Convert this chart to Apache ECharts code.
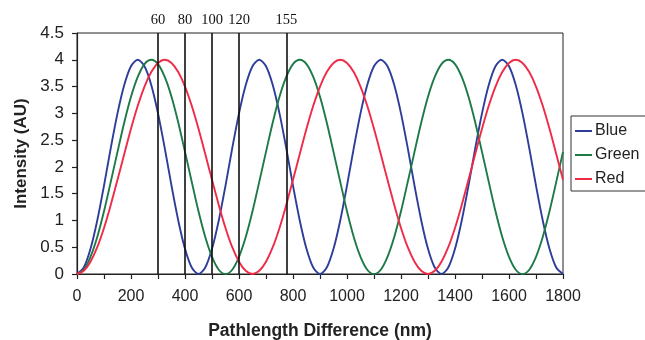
<!DOCTYPE html>
<html>
<head>
<meta charset="utf-8">
<script src="https://cdn.jsdelivr.net/npm/echarts@6/dist/echarts.min.js"></script>
<style>
  html, body { margin: 0; padding: 0; background: #fff; }
  #chart { width: 645px; height: 340px; }
</style>
</head>
<body>
<div id="chart"></div>
<script>
// Pathlength difference samples (nm)
const pathlength = [
  0, 25, 50, 75, 100, 125, 150, 175, 200, 225, 250, 275, 300, 325, 350, 375, 400, 425,
  450, 475, 500, 525, 550, 575, 600, 625, 650, 675, 700, 725, 750, 775, 800, 825, 850, 875,
  900, 925, 950, 975, 1000, 1025, 1050, 1075, 1100, 1125, 1150, 1175, 1200, 1225, 1250, 1275, 1300, 1325,
  1350, 1375, 1400, 1425, 1450, 1475, 1500, 1525, 1550, 1575, 1600, 1625, 1650, 1675, 1700, 1725, 1750, 1775,
  1800
];

// Intensity (AU) for each colour channel
const blue = [
  0, 0.12, 0.47, 1.00, 1.65, 2.35, 3.00, 3.53, 3.88, 4.00, 3.88, 3.53, 3.00, 2.35, 1.65, 1.00, 0.47, 0.12,
  0, 0.12, 0.47, 1.00, 1.65, 2.35, 3.00, 3.53, 3.88, 4.00, 3.88, 3.53, 3.00, 2.35, 1.65, 1.00, 0.47, 0.12,
  0, 0.12, 0.47, 1.00, 1.65, 2.35, 3.00, 3.53, 3.88, 4.00, 3.88, 3.53, 3.00, 2.35, 1.65, 1.00, 0.47, 0.12,
  0, 0.12, 0.47, 1.00, 1.65, 2.35, 3.00, 3.53, 3.88, 4.00, 3.88, 3.53, 3.00, 2.35, 1.65, 1.00, 0.47, 0.12,
  0
];
const green = [
  0, 0.08, 0.32, 0.69, 1.17, 1.72, 2.28, 2.83, 3.31, 3.68, 3.92, 4.00, 3.92, 3.68, 3.31, 2.83, 2.28, 1.72, 1.17, 0.69, 0.32, 0.08,
  0, 0.08, 0.32, 0.69, 1.17, 1.72, 2.28, 2.83, 3.31, 3.68, 3.92, 4.00, 3.92, 3.68, 3.31, 2.83, 2.28, 1.72, 1.17, 0.69, 0.32, 0.08,
  0, 0.08, 0.32, 0.69, 1.17, 1.72, 2.28, 2.83, 3.31, 3.68, 3.92, 4.00, 3.92, 3.68, 3.31, 2.83, 2.28, 1.72, 1.17, 0.69, 0.32, 0.08,
  0, 0.08, 0.32, 0.69, 1.17, 1.72, 2.28
];
const red = [
  0, 0.06, 0.23, 0.50, 0.86, 1.29, 1.76, 2.24, 2.71, 3.14, 3.50, 3.77, 3.94, 4.00, 3.94, 3.77, 3.50, 3.14, 2.71, 2.24, 1.76, 1.29, 0.86, 0.50, 0.23, 0.06,
  0, 0.06, 0.23, 0.50, 0.86, 1.29, 1.76, 2.24, 2.71, 3.14, 3.50, 3.77, 3.94, 4.00, 3.94, 3.77, 3.50, 3.14, 2.71, 2.24, 1.76, 1.29, 0.86, 0.50, 0.23, 0.06,
  0, 0.06, 0.23, 0.50, 0.86, 1.29, 1.76, 2.24, 2.71, 3.14, 3.50, 3.77, 3.94, 4.00, 3.94, 3.77, 3.50, 3.14, 2.71, 2.24, 1.76
];

// Reference markers: position on the pathlength axis and their labels
const markerPositions = [300, 400, 500, 600, 775];
const markerLabels = ['60', '80', '100', '120', '155'];

const seriesNames = ['Blue', 'Green', 'Red'];
const seriesColors = ['#2e3d98', '#1d7a47', '#ef2b48'];

const pairs = ys => pathlength.map((x, i) => [x, ys[i]]);

const markerLines = markerPositions.map((x, i) => [
  { coord: [x, 0] },
  { coord: [x, 4.5], label: { formatter: markerLabels[i] } }
]);

const chart = echarts.init(document.getElementById('chart'), null, { renderer: 'canvas' });

const axisText = { color: '#222', fontFamily: 'Arial, "Liberation Sans", Helvetica, sans-serif' };

chart.setOption({
  animation: false,
  backgroundColor: '#fff',
  grid: {
    left: 77, right: 82, top: 33, bottom: 66,
    containLabel: false,
    outerBoundsMode: 'none',
    show: true, borderColor: '#222', borderWidth: 1, backgroundColor: 'transparent'
  },
  legend: {
    orient: 'vertical',
    left: 571, top: 116,
    data: seriesNames,
    icon: 'rect',
    itemWidth: 17, itemHeight: 2,
    itemGap: 8,
    padding: [7, 12, 4, 4],
    borderColor: '#333', borderWidth: 1,
    textStyle: { ...axisText, fontSize: 16, padding: [0, 0, 0, -2] }
  },
  xAxis: {
    type: 'value',
    min: 0, max: 1800, interval: 100,
    name: 'Pathlength Difference (nm)',
    nameLocation: 'middle',
    nameGap: 48,
    nameTextStyle: { ...axisText, fontSize: 17.5, fontWeight: 'bold' },
    axisLine: { lineStyle: { color: '#222', width: 1.2 } },
    axisTick: { show: true, length: 5, inside: false, lineStyle: { color: '#222', width: 1.2 } },
    axisLabel: {
      ...axisText, fontSize: 16, margin: 15,
      formatter: v => (v % 200 === 0 ? String(v) : '')
    },
    splitLine: { show: false }
  },
  yAxis: {
    type: 'value',
    min: 0, max: 4.5, interval: 0.5,
    name: 'Intensity (AU)',
    nameLocation: 'middle',
    nameRotate: 90,
    nameGap: 46,
    nameTextStyle: { ...axisText, fontSize: 17, fontWeight: 'bold' },
    axisLine: { show: true, lineStyle: { color: '#222', width: 1.2 } },
    axisTick: { show: true, length: 5, inside: false, lineStyle: { color: '#222', width: 1.2 } },
    axisLabel: { ...axisText, fontSize: 17, margin: 13, formatter: v => String(v) },
    splitLine: { show: false }
  },
  series: [blue, green, red].map((ys, i) => ({
    name: seriesNames[i],
    type: 'line',
    data: pairs(ys),
    showSymbol: false,
    symbol: 'none',
    smooth: 0.3,
    clip: false,
    z: 2 + i,
    color: seriesColors[i],
    lineStyle: { color: seriesColors[i], width: 1.9 },
    markLine: i === 0 ? {
      silent: true,
      symbol: ['none', 'none'],
      z: 10,
      lineStyle: { color: '#111', width: 1.6, type: 'solid' },
      label: {
        show: true, position: 'end', distance: 5,
        color: '#111', fontSize: 14.5,
        fontFamily: '"Liberation Serif", "DejaVu Serif", "Times New Roman", serif'
      },
      emphasis: { disabled: true },
      data: markerLines
    } : undefined
  }))
});
</script>
</body>
</html>
